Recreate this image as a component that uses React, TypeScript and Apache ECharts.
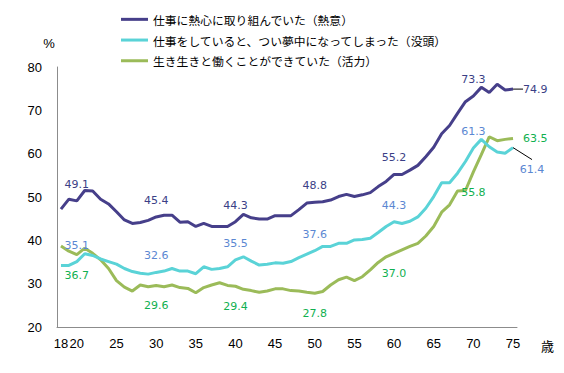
import React, { useEffect, useRef } from "react";
import * as echarts from "echarts";

const ages = [
  "18", "19", "20", "21", "22", "23", "24", "25", "26", "27", "28", "29",
  "30", "31", "32", "33", "34", "35", "36", "37", "38", "39", "40", "41",
  "42", "43", "44", "45", "46", "47", "48", "49", "50", "51", "52", "53",
  "54", "55", "56", "57", "58", "59", "60", "61", "62", "63", "64", "65",
  "66", "67", "68", "69", "70", "71", "72", "73", "74", "75",
];

// 仕事に熱心に取り組んでいた（熱意）
const enthusiasm = [
  47.2, 49.5, 49.1, 51.5, 51.4, 49.5, 48.4, 46.6, 44.7, 43.9, 44.1, 44.6,
  45.4, 45.8, 45.8, 44.2, 44.3, 43.2, 43.9, 43.2, 43.2, 43.2, 44.3, 46.0,
  45.2, 44.9, 44.9, 45.7, 45.7, 45.7, 47.1, 48.6, 48.8, 48.9, 49.3, 50.1,
  50.6, 50.1, 50.5, 51.0, 52.4, 53.6, 55.2, 55.2, 56.2, 57.3, 59.3, 61.5,
  64.6, 66.5, 69.3, 72.0, 73.3, 75.3, 74.1, 76.0, 74.7, 74.9,
];

// 仕事をしていると、つい夢中になってしまった（没頭）
const absorption = [
  34.2, 34.2, 35.1, 36.9, 36.5, 35.7, 35.1, 34.5, 33.5, 32.8, 32.4, 32.2,
  32.6, 32.9, 33.5, 32.9, 32.9, 32.3, 33.9, 33.3, 33.5, 33.9, 35.5, 36.2,
  35.2, 34.3, 34.5, 34.8, 34.7, 35.1, 36.0, 36.8, 37.6, 38.6, 38.6, 39.3,
  39.3, 40.1, 40.2, 40.5, 41.8, 43.2, 44.3, 43.9, 44.4, 45.4, 47.4, 50.1,
  53.3, 53.3, 55.5, 58.2, 61.3, 63.3, 61.6, 60.4, 60.1, 61.4,
];

// 生き生きと働くことができていた（活力）
const vigor = [
  38.7, 37.5, 36.7, 38.2, 37.0, 35.5, 33.5, 30.7, 29.2, 28.3, 29.7, 29.3,
  29.6, 29.3, 29.7, 29.1, 28.9, 27.9, 29.1, 29.7, 30.2, 29.6, 29.4, 28.7,
  28.4, 28.0, 28.3, 28.8, 28.8, 28.4, 28.3, 28.0, 27.8, 28.2, 29.7, 30.9,
  31.5, 30.7, 31.6, 33.2, 34.9, 36.2, 37.0, 37.8, 38.6, 39.3, 41.0, 43.2,
  46.5, 48.2, 51.4, 51.5, 55.8, 59.8, 63.9, 63.0, 63.3, 63.5,
];

const seriesNames = [
  "仕事に熱心に取り組んでいた（熱意）",
  "仕事をしていると、つい夢中になってしまった（没頭）",
  "生き生きと働くことができていた（活力）",
];

const labeledAges = ["20", "30", "40", "50", "60", "70", "75"];
const xTickAges = ["18", "20", "25", "30", "35", "40", "45", "50", "55", "60", "65", "70", "75"];
const lastAge = "75";

const lineColors = ["#463f8a", "#5ad3d7", "#9bbb59"];
const labelColors = ["#3b3f86", "#5b87d2", "#10b050"];

const LABEL_FONT = "'DejaVu Sans', Verdana, sans-serif";
const TICK_FONT = "'Liberation Sans', Arial, sans-serif";
const JP_FONT = "'Noto Sans CJK JP', sans-serif";

function buildData(
  values: number[],
  baseLabel: any,
  lastLabel: any,
  lastLabelLine: boolean
) {
  return values.map((v, i) => {
    const age = ages[i];
    if (!labeledAges.includes(age)) return v;
    const isLast = age === lastAge;
    const item: any = {
      value: v,
      label: {
        show: true,
        formatter: v.toFixed(1),
        fontFamily: LABEL_FONT,
        fontSize: 11,
        ...baseLabel,
        ...(isLast ? lastLabel : {}),
      },
    };
    if (isLast && lastLabelLine) {
      item.labelLine = { show: true, lineStyle: { color: "#000", width: 1 } };
    }
    return item;
  });
}

export default function App() {
  const ref = useRef<HTMLDivElement>(null);

  useEffect(() => {
    if (!ref.current) return;
    const chart = echarts.init(ref.current, undefined, { renderer: "svg" });
    const lastIdx = ages.indexOf(lastAge);

    const mk = (
      idx: number,
      values: number[],
      baseLabel: any,
      lastLabel: any,
      lastLabelLine: boolean,
      move: { dx: number; dy: number } | null
    ) => ({
      name: seriesNames[idx],
      type: "line",
      data: buildData(values, { color: labelColors[idx], ...baseLabel }, lastLabel, lastLabelLine),
      symbol: "circle",
      symbolSize: 0,
      showSymbol: true,
      itemStyle: { color: lineColors[idx] },
      lineStyle: { color: lineColors[idx], width: 3 },
      labelLayout: move
        ? (params: any) => (params.dataIndex === lastIdx ? { dx: move.dx, dy: move.dy } : {})
        : undefined,
      z: 3 - idx,
    });

    const unitText = {
      id: "unit-age",
      type: "text",
      left: 541,
      top: 339,
      style: { text: "歳", font: `13px ${JP_FONT}`, fill: "#000" },
    };

    chart.setOption({
      animation: false,
      grid: { left: 57, right: 47, top: 67, bottom: 46, outerBoundsMode: "none" },
      legend: {
        orient: "vertical",
        left: 116,
        top: 4,
        icon: "rect",
        itemWidth: 27,
        itemHeight: 3,
        itemGap: 0,
        textStyle: {
          fontFamily: JP_FONT,
          fontSize: 11.8,
          color: "#000",
          lineHeight: 20.7,
        },
        data: seriesNames,
      },
      graphic: [unitText],
      xAxis: {
        type: "category",
        data: ages,
        boundaryGap: true,
        axisLine: { show: true, lineStyle: { color: "#8c8c8c", width: 1 } },
        axisTick: { show: false },
        axisLabel: {
          interval: (_i: number, value: string) => xTickAges.includes(value),
          margin: 10,
          fontFamily: TICK_FONT,
          fontSize: 13,
          color: "#000",
        },
        splitLine: { show: false },
      },
      yAxis: {
        type: "value",
        min: 20,
        max: 80,
        interval: 10,
        name: "%",
        nameLocation: "end",
        nameGap: 17,
        nameTextStyle: {
          fontFamily: TICK_FONT,
          fontSize: 13,
          color: "#000",
          align: "center",
          padding: [0, 16, 0, 0],
        },
        axisLine: { show: true, lineStyle: { color: "#8c8c8c", width: 1 } },
        axisTick: { show: false },
        axisLabel: {
          margin: 15,
          fontFamily: TICK_FONT,
          fontSize: 13,
          color: "#000",
        },
        splitLine: { show: false },
      },
      series: [
        mk(0, enthusiasm, { position: "top", distance: 11 }, { position: "right", distance: 5 }, true, { dx: 5, dy: 0 }),
        mk(
          1,
          absorption,
          { position: "top", distance: 11 },
          { position: "bottom", distance: 5 },
          false,
          { dx: 19, dy: 11.5 }
        ),
        mk(2, vigor, { position: "bottom", distance: 15 }, { position: "right", distance: 10 }, false, null),
      ],
    });

    // leader line for the 没頭 end label, anchored on the library's own pixel mapping
    const p = chart.convertToPixel({ gridIndex: 0 }, [lastAge, absorption[lastIdx]]) as number[];
    if (p && isFinite(p[0]) && isFinite(p[1])) {
      chart.setOption({
        graphic: [
          unitText,
          {
            id: "leader-absorption",
            type: "line",
            shape: { x1: p[0], y1: p[1], x2: p[0] + 19, y2: p[1] + 12 },
            style: { stroke: "#000", lineWidth: 1 },
            z: 10,
          },
        ],
      });
    }

    return () => chart.dispose();
  }, []);

  return (
    <div
      ref={ref}
      style={{ position: "fixed", left: 0, top: 0, width: 564, height: 373, background: "#fff" }}
    />
  );
}
